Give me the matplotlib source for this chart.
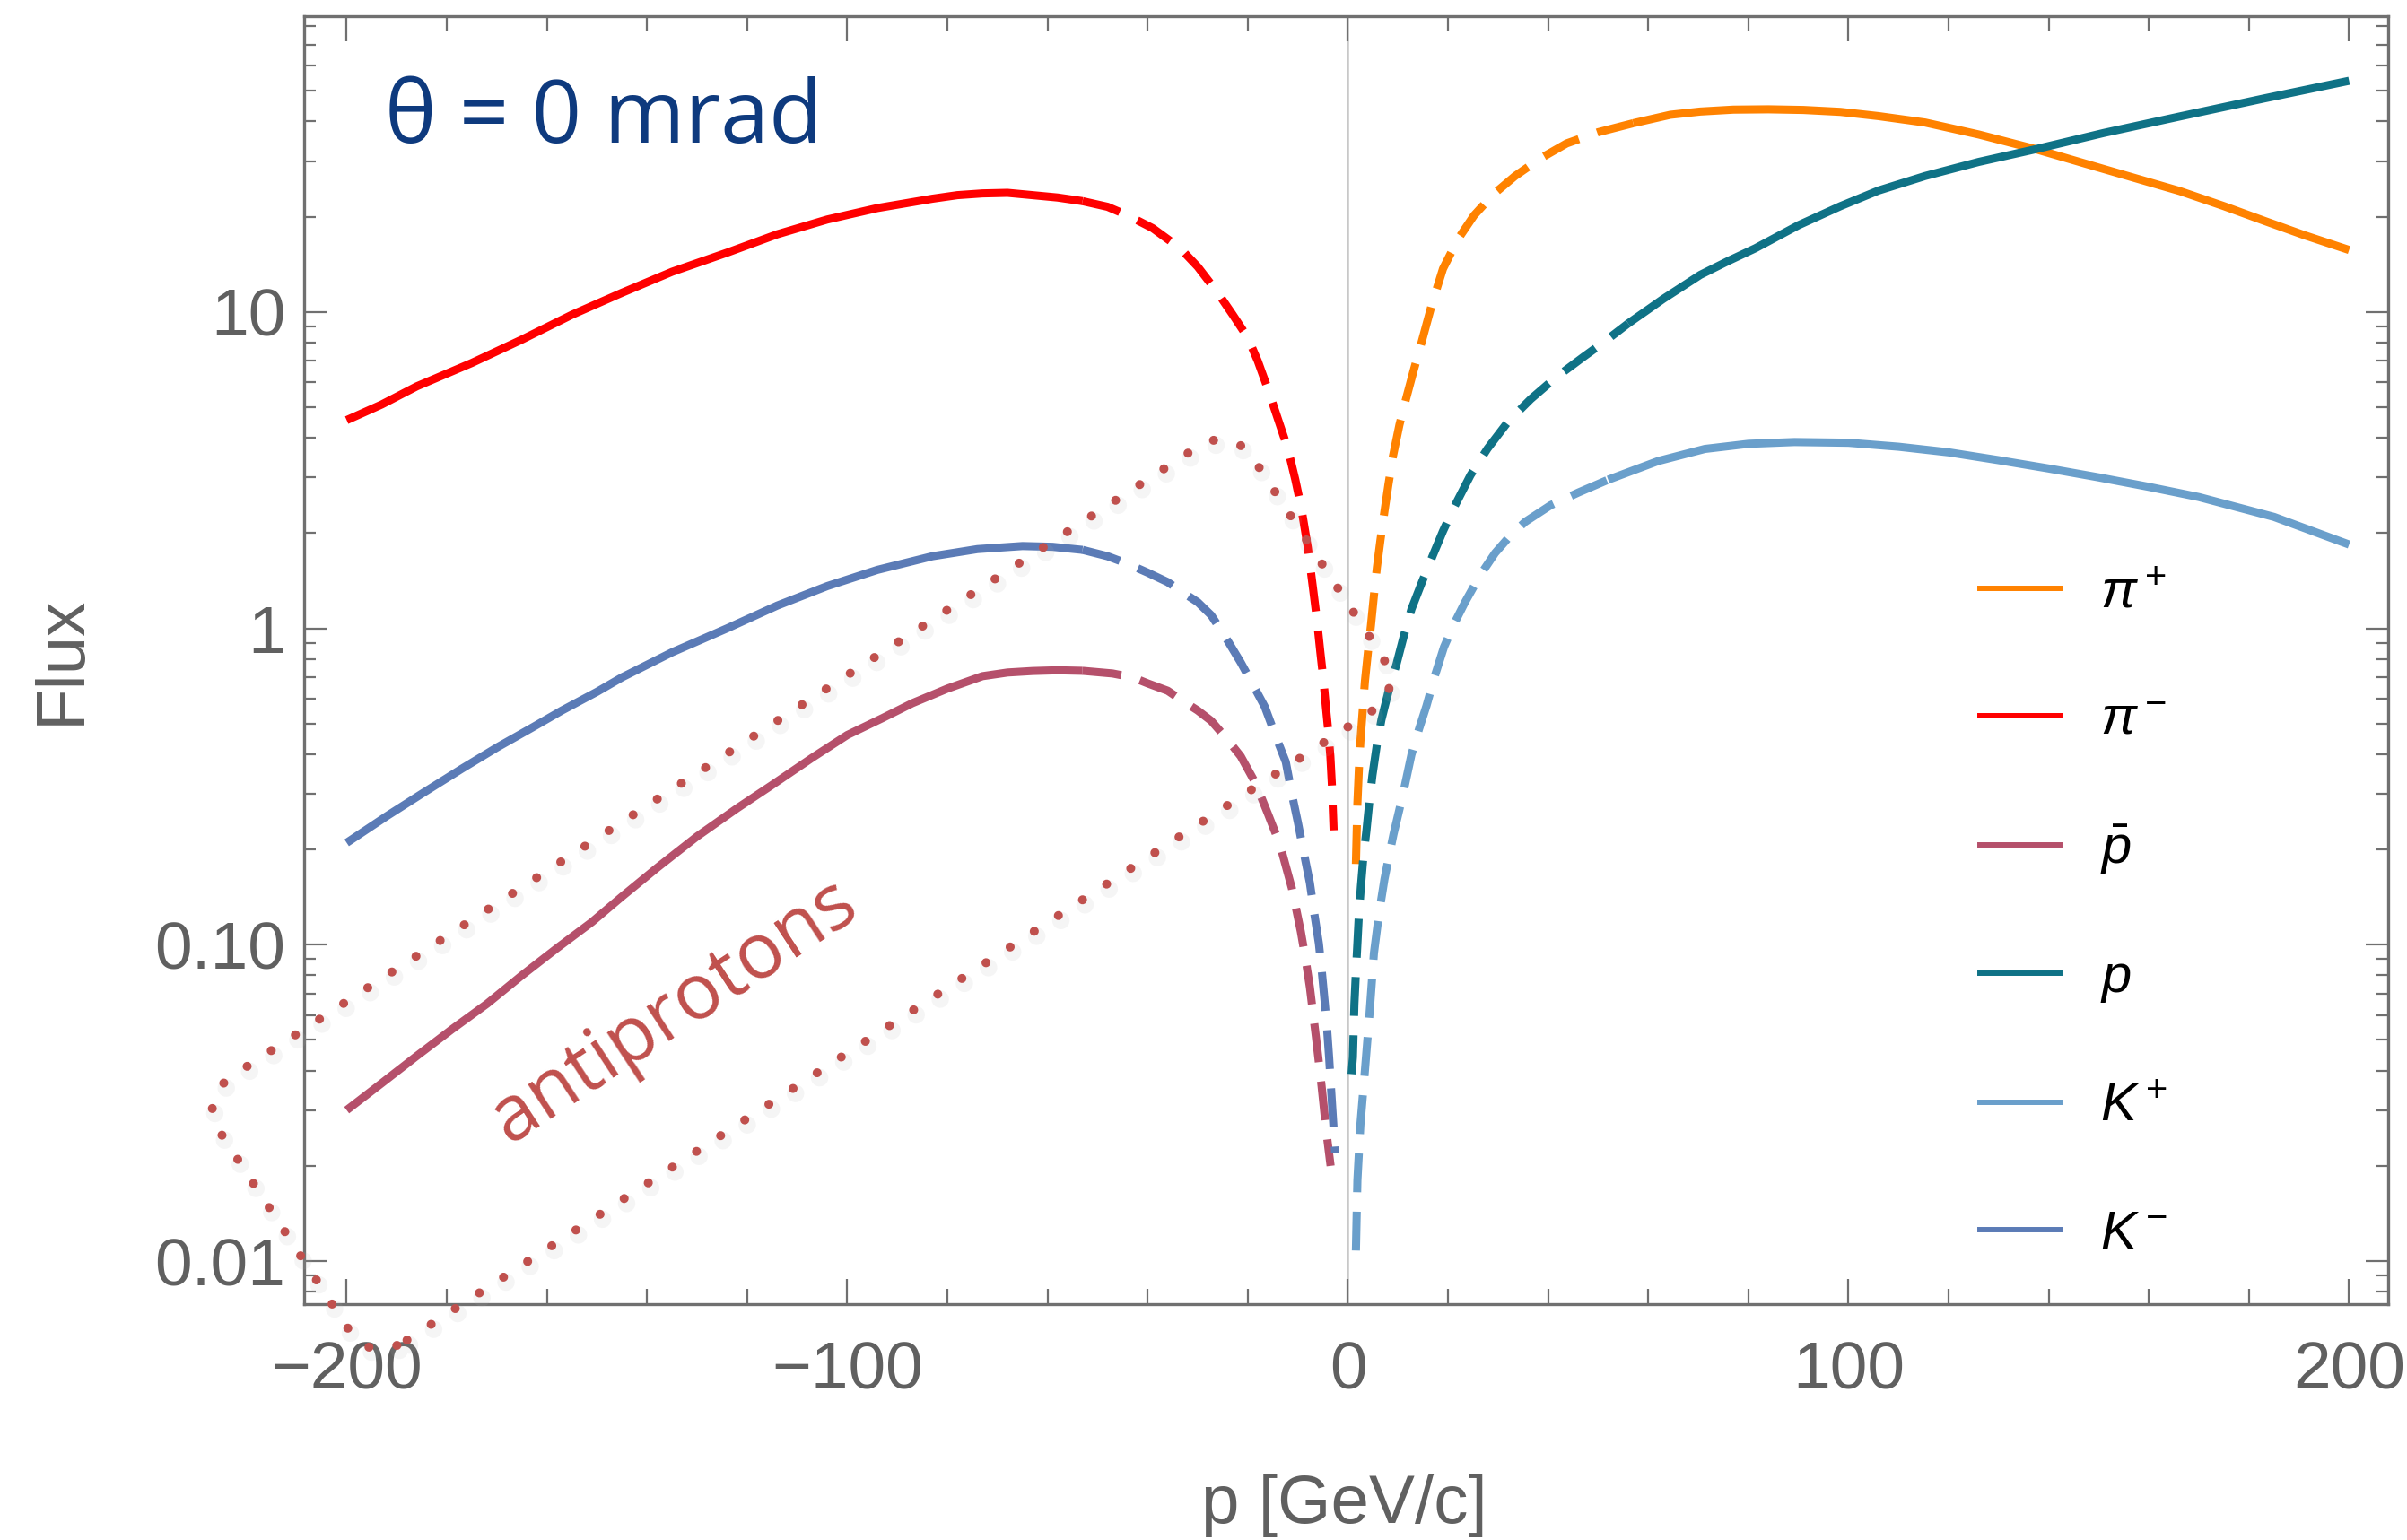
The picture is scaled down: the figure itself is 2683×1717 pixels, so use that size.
import numpy as np
import matplotlib
matplotlib.use("Agg")
import matplotlib.pyplot as plt
import matplotlib.patheffects as pe
from matplotlib.patches import FancyBboxPatch
from matplotlib.transforms import Affine2D
from matplotlib.lines import Line2D
from matplotlib.ticker import LogLocator, MultipleLocator, NullFormatter

plt.rcParams['font.family'] = ['Liberation Sans', 'DejaVu Sans']
plt.rcParams['mathtext.fontset'] = 'custom'
plt.rcParams['mathtext.rm'] = 'Liberation Sans'
plt.rcParams['mathtext.it'] = 'Liberation Sans:italic'

# flux vs momentum, negative p = negative particles
p_pim = [-200, -193, -186, -175, -165, -155, -145, -135, -124, -114, -104, -94, -83, -78,
         -73, -68, -63, -58, -53, -48, -44, -39, -33.5, -30, -26, -23, -20, -18, -16, -14,
         -12, -10.5, -9.3, -8.0, -7.0, -6.2, -5.5, -4.9, -4.4, -3.9, -3.5, -3.15, -2.85]
f_pim = [4.55, 5.1, 5.82, 6.9, 8.18, 9.8, 11.5, 13.4, 15.4, 17.6, 19.6, 21.3, 22.8, 23.4,
         23.7, 23.8, 23.4, 23.0, 22.4, 21.5, 20.2, 18.4, 15.9, 13.9, 11.5, 9.8, 8.3, 7.0,
         5.72, 4.6, 3.7, 2.95, 2.4, 1.8, 1.35, 1.07, 0.84, 0.69, 0.565, 0.47, 0.394, 0.31,
         0.23]

p_km = [-200, -192, -185, -177, -170, -163, -157, -150, -145, -135, -124, -114, -104, -94,
        -83, -74, -65, -59, -53, -48, -44, -40, -36, -33, -30, -27.3, -24.3, -21.4, -19,
        -16.6, -14.5, -12.4, -11.2, -10, -8.8, -7.6, -6.7, -5.8, -5.2, -4.6, -4.15, -3.75,
        -3.15, -2.55]
f_km = [0.21, 0.255, 0.30, 0.36, 0.42, 0.485, 0.55, 0.63, 0.70, 0.84, 1.00, 1.18, 1.36,
        1.53, 1.69, 1.78, 1.82, 1.81, 1.77, 1.69, 1.60, 1.50, 1.40, 1.30, 1.21, 1.10, 0.93,
        0.78, 0.665, 0.565, 0.46, 0.378, 0.30, 0.244, 0.195, 0.157, 0.125, 0.101, 0.082,
        0.065, 0.054, 0.044, 0.031, 0.022]

p_pbar = [-200, -193, -186, -179, -172, -165, -158, -151, -145, -138, -130, -122, -115,
          -107, -100, -93, -87, -80, -73, -68, -63, -58, -53, -47, -43, -40, -36, -33, -30,
          -27.3, -24.3, -21.4, -18.4, -16, -13.6, -11.2, -9.4, -8.5, -7.6, -6.4, -5.25,
          -4.35, -3.45]
f_pbar = [0.030, 0.0365, 0.0445, 0.054, 0.065, 0.080, 0.0975, 0.118, 0.142, 0.175, 0.22,
          0.27, 0.32, 0.39, 0.46, 0.52, 0.58, 0.645, 0.706, 0.725, 0.733, 0.737, 0.734,
          0.72, 0.70, 0.67, 0.635, 0.59, 0.55, 0.51, 0.45, 0.394, 0.323, 0.26, 0.208, 0.151,
          0.110, 0.091, 0.0735, 0.0513, 0.0357, 0.026, 0.020]

p_pip = [1.6, 1.9, 2.2, 2.5, 3.0, 3.4, 4.0, 4.6, 5.2, 5.8, 6.5, 7.3, 8.1, 9.0, 10.3, 11.6,
         13.1, 14.7, 16.8, 19.0, 22, 25.2, 29, 33.4, 38.5, 43.7, 50, 57, 64.4, 70.4, 77, 84,
         91, 98.4, 106, 115.3, 126, 137.4, 151, 166.2, 175, 183.1, 191, 200]
f_pip = [0.18, 0.28, 0.36, 0.44, 0.56, 0.68, 0.84, 1.02, 1.27, 1.56, 1.9, 2.34, 2.85, 3.5,
         4.4, 5.3, 6.5, 8.0, 10.6, 13.7, 17.0, 20.2, 23.5, 26.9, 30.6, 34.1, 37.0, 39.5,
         42.0, 43.0, 43.6, 43.7, 43.5, 42.9, 41.6, 39.7, 36.4, 32.7, 28.3, 24.1, 21.6,
         19.4, 17.5, 15.7]

p_prot = [0.73, 1.0, 1.3, 1.6, 1.9, 2.2, 2.6, 3.1, 3.7, 4.3, 4.9, 5.8, 6.7, 8.2, 9.7, 11.2,
          12.7, 14.8, 16.9, 19.0, 21.3, 24.5, 27.9, 32, 36.5, 41.5, 47, 51, 56, 63, 70.4,
          76, 81.4, 90, 98.4, 106, 115.3, 126, 137.4, 151, 166.2, 183, 200]
f_prot = [0.039, 0.044, 0.065, 0.082, 0.101, 0.125, 0.153, 0.19, 0.229, 0.285, 0.343, 0.43,
          0.514, 0.64, 0.77, 0.95, 1.15, 1.40, 1.69, 2.03, 2.43, 3.05, 3.70, 4.5, 5.3, 6.2,
          7.2, 8.0, 9.2, 11.0, 13.1, 14.5, 15.9, 18.8, 21.6, 24.2, 26.9, 29.8, 32.7, 36.8,
          41.5, 47.3, 53.8]

p_kp = [1.6, 1.9, 2.5, 3.4, 4.3, 5.2, 6.2, 7.3, 8.2, 9.1, 10.0, 10.9, 12.7, 14.2, 15.7,
        17.4, 19.2, 21.3, 23.4, 26.4, 29.4, 32.4, 35.4, 40.5, 46.1, 52, 62, 71.3, 80, 89.2,
        100, 110, 120, 130, 140, 150, 160, 170, 185, 200]
f_kp = [0.0108, 0.018, 0.027, 0.040, 0.060, 0.094, 0.125, 0.161, 0.19, 0.223, 0.256, 0.294,
        0.399, 0.48, 0.569, 0.71, 0.873, 1.04, 1.21, 1.47, 1.73, 1.96, 2.17, 2.45, 2.69,
        2.95, 3.38, 3.69, 3.83, 3.88, 3.86, 3.75, 3.6, 3.4, 3.2, 3.0, 2.8, 2.6, 2.25, 1.84]

# |p| below which each curve is drawn dashed
species = [
    (r'$\pi^+$', p_pip, f_pip, '#ff8200', 57),
    (r'$\pi^-$', p_pim, f_pim, '#ff0000', 53),
    (r'$\bar{p}$', p_pbar, f_pbar, '#b5506b', 53),
    (r'$p$', p_prot, f_prot, '#0f7286', 56),
    (r'$K^+$', p_kp, f_kp, '#6a9fcb', 52),
    (r'$K^-$', p_km, f_km, '#5b7bb6', 53),
]

axis_gray = '#707070'
label_gray = '#606060'

fig = plt.figure(figsize=(26.83, 17.17), dpi=100)
ax = fig.add_axes([0.12635, 0.15317, 0.86582, 0.83634])
ax.set_yscale('log')
ax.set_xlim(-208.5, 207.8)
ax.set_ylim(10 ** -2.136, 10 ** 1.935)

ax.axvline(0, color='#c8c8c8', lw=1.8, zorder=0.5)

handles = []
for label, p, f, color, cut in species:
    p = np.asarray(p, dtype=float)
    f = np.asarray(f, dtype=float)
    solid = np.abs(p) >= cut
    dashed = np.abs(p) <= cut
    ax.plot(p[solid], f[solid], color=color, lw=6.5, solid_capstyle='butt',
            solid_joinstyle='round', zorder=3)
    ax.plot(p[dashed], f[dashed], color=color, lw=6.5, linestyle=(0, (4.8, 2.4)),
            dash_capstyle='butt', dash_joinstyle='round', zorder=3)
    handles.append(Line2D([], [], color=color, lw=4.3, label=label))

ax.set_xticks([-200, -100, 0, 100, 200])
ax.xaxis.set_minor_locator(MultipleLocator(20))
ax.set_yticks([0.01, 0.1, 1, 10])
ax.set_yticklabels(['0.01', '0.10', '1', '10'])
ax.yaxis.set_minor_locator(LogLocator(base=10, subs=np.arange(2, 10)))
ax.yaxis.set_minor_formatter(NullFormatter())

ax.tick_params(which='both', direction='in', top=True, right=True, color=axis_gray,
               width=1.6, labelsize=54, labelcolor=label_gray)
ax.tick_params(axis='x', which='major', length=20, pad=29)
ax.tick_params(axis='x', which='minor', length=12)
ax.tick_params(axis='y', which='major', length=18, pad=15)
ax.tick_params(axis='y', which='minor', length=9.5)
for s in ax.spines.values():
    s.set_color(axis_gray)
    s.set_linewidth(2.4)

ax.set_xlabel('p [GeV/c]', fontsize=55, color=label_gray)
ax.set_ylabel('Flux', fontsize=55, color=label_gray)
ax.xaxis.set_label_coords(0.4989, -0.1316)
ax.yaxis.set_label_coords(-0.101, 0.5)

ax.legend(handles=handles, loc='center left', bbox_to_anchor=(0.804, 0.303),
          frameon=False, fontsize=43, handlelength=1.5, handletextpad=0.75,
          labelspacing=1.45, borderpad=0, borderaxespad=0)

fig.text(0.1599, 0.9074, 'θ = 0 mrad', fontsize=70, family='Open Sans',
         color='#0e3a7e', ha='left', va='baseline')

red_note = '#c0504d'
fig.text(0.280, 0.343, 'antiprotons', fontsize=62, family='Open Sans', color=red_note,
         rotation=33.3, rotation_mode='anchor', ha='center', va='center')

# dotted rounded frame around the antiproton curve (figure inches)
bw, bh = 13.75, 3.53
frame = FancyBboxPatch((-bw / 2, -bh / 2), bw, bh,
                       boxstyle='round,pad=0,rounding_size=0.48',
                       transform=Affine2D().rotate_deg(33.1).translate(8.93, 7.20)
                       + fig.dpi_scale_trans,
                       fill=False, edgecolor=red_note, linewidth=7.2,
                       linestyle=(0, (0.01, 3.2)), capstyle='round', zorder=5)
frame.set_path_effects([pe.SimpleLineShadow(offset=(2, -4), shadow_color='#b0b0b0',
                                            alpha=0.12, linewidth=14),
                        pe.Normal()])
fig.add_artist(frame)

fig.savefig('out.png', dpi=100)
